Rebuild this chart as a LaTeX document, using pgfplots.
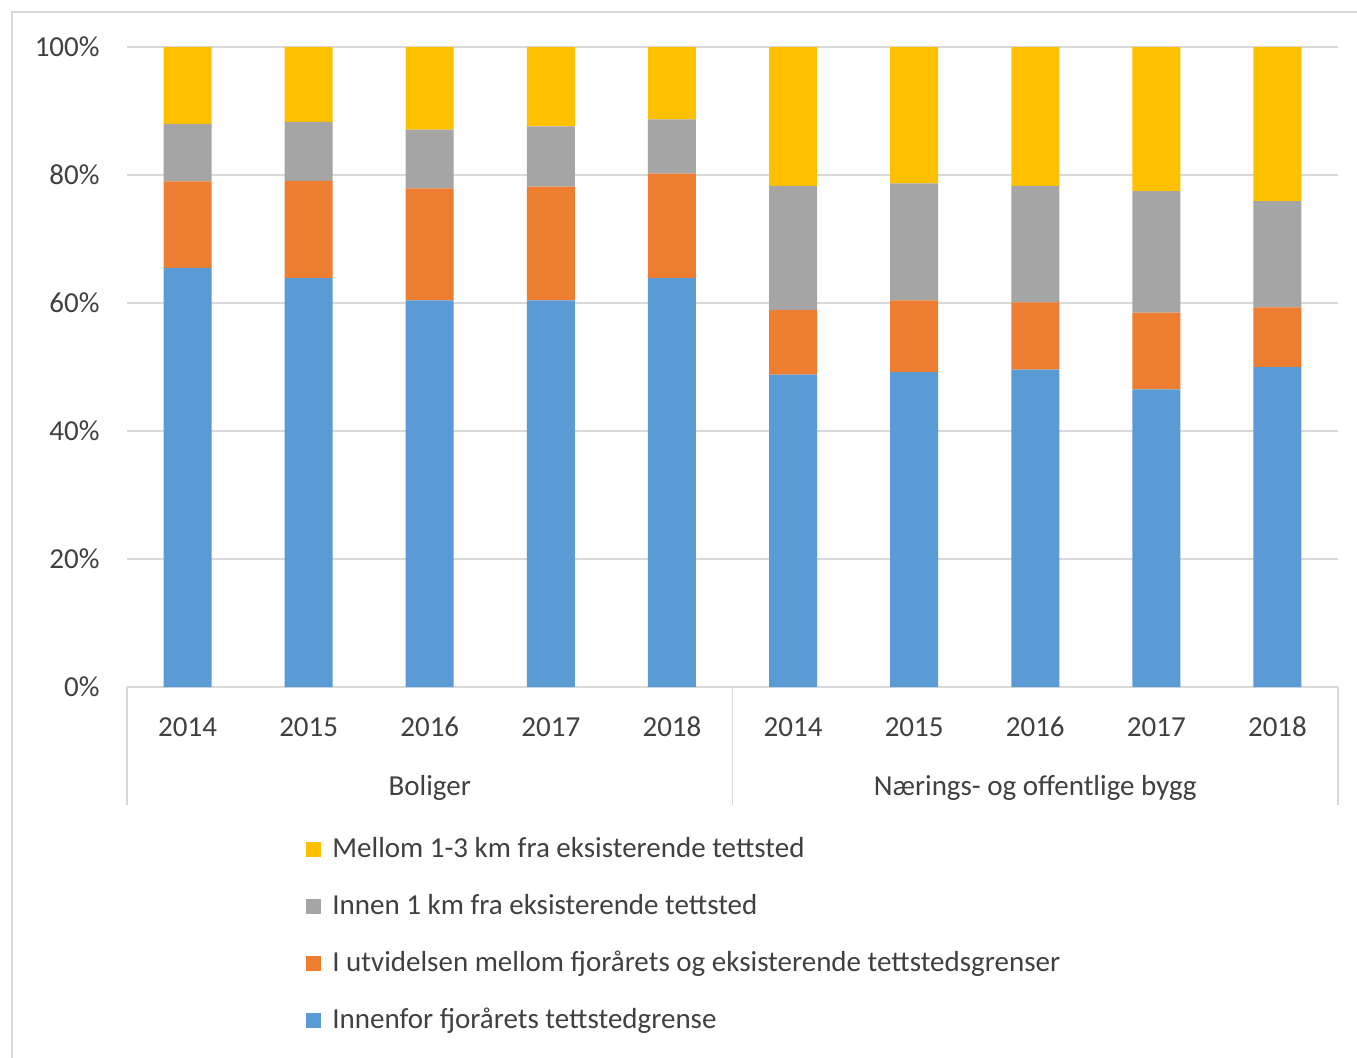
\documentclass[border=0pt]{standalone}
\usepackage{pgfplots}
\pgfplotsset{compat=1.18}
\usepackage{fontspec}
\setmainfont{Carlito}
\definecolor{cblue}{HTML}{5B9BD5}
\definecolor{corange}{HTML}{ED7D31}
\definecolor{cgray}{HTML}{A5A5A5}
\definecolor{cyellow}{HTML}{FFC000}
\definecolor{cgrid}{HTML}{D9D9D9}
\definecolor{ctext}{HTML}{404040}
\newcommand{\cfont}{\fontsize{14.5}{17}\selectfont}
\begin{document}
\begin{tikzpicture}[x=1pt,y=1pt]
\useasboundingbox (-63.5,-185) rectangle (615,343.5);
\draw[cgrid, line width=0.75pt] (-57.5,-190) -- (-57.5,337.5) -- (620,337.5);
\begin{axis}[
  at={(0,0)}, anchor=south west,
  scale only axis, width=605.5pt, height=320pt,
  xmin=-0.5, xmax=9.5, ymin=0, ymax=100, enlargelimits=false,
  ybar stacked, bar width=24pt,
  clip=false,
  xtick={0,...,9},
  xticklabels={2014,2015,2016,2017,2018,2014,2015,2016,2017,2018},
  ytick={0,20,...,100},
  yticklabels={0\%,20\%,40\%,60\%,80\%,100\%},
  ymajorgrids, grid style={cgrid, line width=0.75pt},
  axis line style={draw=none}, major tick length=0pt,
  tick label style={font=\cfont, text=ctext, inner sep=0pt},
  xticklabel style={anchor=base, yshift=-24.5pt},
  yticklabel style={anchor=east, xshift=-13.5pt},
  reverse legend,
  legend cell align=left,
  legend style={at={(axis description cs:0.1478,-0.234)}, anchor=north west,
    draw=none, fill=none, inner sep=0pt, font=\cfont, text=ctext,
    nodes={inner sep=0pt, text height=10pt, text depth=3pt},
    row sep=15.5pt,
    /tikz/every odd column/.append style={column sep=5.5pt}},
  legend image code/.code={\fill[#1] (0pt,-3.5pt) rectangle (7.5pt,4pt);},
]
\addplot[fill=cblue, draw=none] coordinates {(0,65.5) (1,63.9) (2,60.4) (3,60.4) (4,63.9) (5,48.8) (6,49.2) (7,49.6) (8,46.5) (9,50.0)};
\addlegendentry{Innenfor fjorårets tettstedgrense}
\addplot[fill=corange, draw=none] coordinates {(0,13.5) (1,15.2) (2,17.5) (3,17.8) (4,16.3) (5,10.1) (6,11.2) (7,10.5) (8,12.0) (9,9.3)};
\addlegendentry{I utvidelsen mellom fjorårets og eksisterende tettstedsgrenser}
\addplot[fill=cgray, draw=none] coordinates {(0,9.0) (1,9.2) (2,9.2) (3,9.4) (4,8.5) (5,19.4) (6,18.3) (7,18.2) (8,19.0) (9,16.6)};
\addlegendentry{Innen 1 km fra eksisterende tettsted}
\addplot[fill=cyellow, draw=none] coordinates {(0,12.0) (1,11.7) (2,12.9) (3,12.4) (4,11.3) (5,21.7) (6,21.3) (7,21.7) (8,22.5) (9,24.1)};
\addlegendentry{Mellom 1-3 km fra eksisterende tettsted}
\draw[cgrid, line width=0.75pt] (axis cs:-0.5,0) -- ++(0pt,-59pt);
\draw[cgrid, line width=0.75pt] (axis cs:4.5,0) -- ++(0pt,-59pt);
\draw[cgrid, line width=0.75pt] (axis cs:9.5,0) -- ++(0pt,-59pt);
\node[anchor=base, font=\cfont, text=ctext, inner sep=0pt] at ([yshift=-54pt]axis cs:2,0) {Boliger};
\node[anchor=base, font=\cfont, text=ctext, inner sep=0pt] at ([yshift=-54pt]axis cs:7,0) {Nærings- og offentlige bygg};
\end{axis}
\end{tikzpicture}
\end{document}
